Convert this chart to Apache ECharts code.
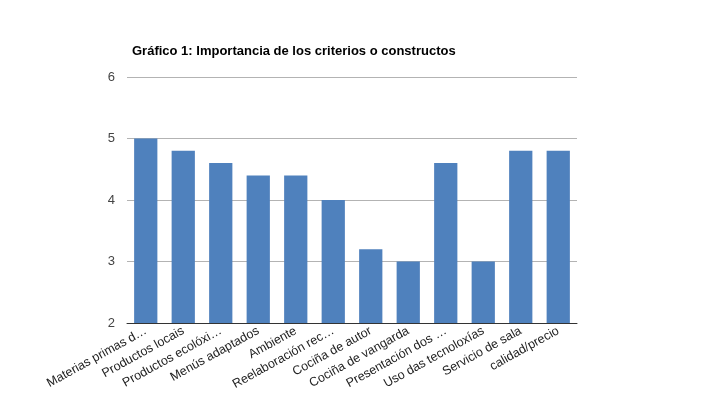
<!DOCTYPE html>
<html>
<head>
<meta charset="utf-8">
<script src="https://cdn.jsdelivr.net/npm/echarts@6/dist/echarts.min.js"></script>
<style>
html,body{margin:0;padding:0;background:#fff;}
#chart{width:704px;height:400px;}
</style>
</head>
<body>
<div id="chart"></div>
<script>
var categories = ['Materias primas d…', 'Productos locais', 'Productos ecolóxi…', 'Menús adaptados', 'Ambiente',
	'Reelaboración rec…', 'Cociña de autor', 'Cociña de vangarda', 'Presentación dos …',
	'Uso das tecnoloxías', 'Servicio de sala', 'calidad/precio'];
var values = [5, 4.8, 4.6, 4.4, 4.4, 4.0, 3.2, 3.0, 4.6, 3.0, 4.8, 4.8];
var yTicks = [2, 3, 4, 5, 6];

var chart = echarts.init(document.getElementById('chart'));
var option = {
	animation: false,
	textStyle: {fontFamily: 'Liberation Sans, Arial, sans-serif'},
	title: {
		text: 'Gráfico 1: Importancia de los criterios o constructos',
		left: 127,
		top: 40,
		textStyle: {fontSize: 13, fontWeight: 'bold', color: '#000'}
	},
	grid: {
		left: 127,
		right: 127,
		top: 77,
		bottom: 77,
		containLabel: false
	},
	xAxis: [{
		type: 'category',
		data: categories,
		axisTick: {show: false},
		axisLine: {lineStyle: {color: '#333', width: 1}},
		axisLabel: {
			rotate: 29,
			interval: 0,
			margin: 7,
			fontSize: 12.5,
			color: '#222'
		}
	}],
	yAxis: [{
		type: 'value',
		min: yTicks[0],
		max: yTicks[yTicks.length - 1],
		interval: 1,
		axisLine: {show: false},
		axisTick: {show: false},
		axisLabel: {fontSize: 13, color: '#444', margin: 12},
		splitLine: {lineStyle: {color: '#b3b3b3'}}
	}],
	series: [{
		type: 'bar',
		data: values,
		barWidth: '62%',
		itemStyle: {color: '#4f81bd'}
	}]
};
chart.setOption(option);
</script>
</body>
</html>
